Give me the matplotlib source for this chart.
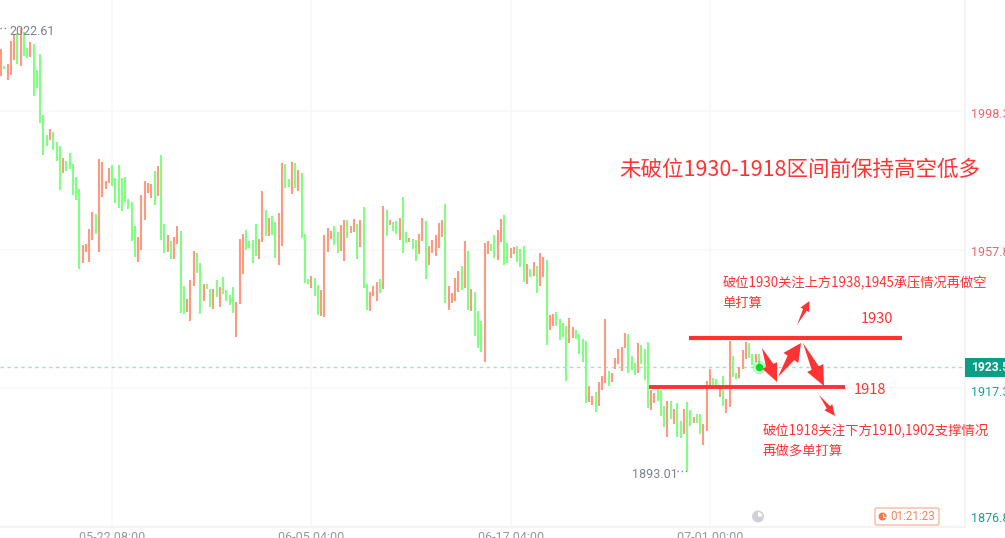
import matplotlib
matplotlib.use("Agg")
import matplotlib.pyplot as plt
from matplotlib.patches import Polygon, Rectangle, Circle, Wedge, FancyBboxPatch
import numpy as np

plt.rcParams['font.family'] = ['Noto Sans CJK SC', 'DejaVu Sans']

# 每根K线的开盘/收盘价
opens = [
    2008.8, 2011.6, 2007.6, 2009.1, 2013.4, 2021.2, 2011.7, 2021.6, 2016.9, 2014.3,
    2018.1, 2010.5, 2015.1, 1997.3, 1991.4, 1990.0, 1992.3, 1989.4, 1988.2, 1980.3,
    1983.8, 1986.2, 1983.0, 1979.1, 1975.6, 1954.0, 1957.2, 1954.3, 1960.7, 1968.3,
    1957.2, 1973.3, 1975.6, 1977.4, 1982.7, 1978.9, 1982.7, 1978.9, 1979.1, 1972.7,
    1971.8, 1964.8, 1954.3, 1957.8, 1966.6, 1974.5, 1973.0, 1980.9, 1973.6, 1985.6,
    1965.4, 1957.2, 1960.4, 1955.2, 1959.5, 1963.3, 1947.3, 1939.6, 1937.0, 1947.3,
    1956.9, 1954.0, 1942.9, 1947.8, 1946.4, 1940.5, 1949.0, 1941.1, 1949.9, 1946.1,
    1944.6, 1947.0, 1932.3, 1942.0, 1950.8, 1963.6, 1960.4, 1960.7, 1965.4, 1955.2,
    1960.1, 1969.5, 1961.9, 1967.7, 1966.0, 1953.4, 1959.0, 1982.9, 1978.6, 1974.2,
    1983.2, 1975.0, 1980.3, 1962.5, 1949.3, 1946.7, 1949.6, 1947.5, 1938.5, 1938.2,
    1957.2, 1961.0, 1964.8, 1963.0, 1957.5, 1954.6, 1966.6, 1962.8, 1963.0, 1965.4,
    1958.7, 1970.4, 1947.8, 1939.9, 1944.3, 1942.9, 1949.3, 1946.4, 1969.5, 1965.1,
    1966.0, 1966.3, 1960.7, 1973.3, 1963.0, 1960.1, 1961.0, 1960.7, 1956.6, 1960.4,
    1966.3, 1953.4, 1956.9, 1956.0, 1958.4, 1961.6, 1971.2, 1940.2, 1942.3, 1942.9,
    1945.5, 1953.1, 1946.7, 1957.5, 1939.9, 1945.5, 1939.9, 1937.0, 1925.0, 1956.6,
    1959.5, 1962.2, 1954.9, 1960.1, 1968.0, 1959.8, 1955.4, 1956.6, 1959.0, 1958.1,
    1959.0, 1947.8, 1952.2, 1950.2, 1953.1, 1947.3, 1949.9, 1954.9, 1934.4, 1935.5,
    1939.6, 1937.6, 1936.4, 1935.5, 1930.6, 1932.0, 1934.4, 1933.2, 1931.7, 1931.2,
    1913.3, 1912.4, 1916.2, 1912.1, 1916.8, 1918.9, 1922.4, 1919.2, 1923.0, 1924.4,
    1922.4, 1929.1, 1933.2, 1926.8, 1924.7, 1921.8, 1930.0, 1928.8, 1930.9, 1911.0,
    1913.0, 1917.1, 1916.8, 1912.1, 1903.1, 1913.6, 1906.9, 1913.0, 1907.8, 1903.9,
    1913.3, 1911.0, 1907.2, 1909.8, 1909.8, 1900.7, 1904.8, 1917.3, 1920.3, 1920.0,
    1914.8, 1920.9, 1910.1, 1911.8, 1926.8, 1921.8, 1920.3, 1923.0, 1925.9, 1930.6,
    1927.4, 1925.0, 1927.4,
]
closes = [
    2016.6, 2010.7, 2012.2, 2018.9, 2020.7, 2012.2, 2022.61, 2014.5, 2014.0, 2018.6,
    2002.8, 2005.2, 1994.9, 1985.6, 1988.2, 1993.2, 1987.0, 1983.8, 1975.3, 1984.7,
    1980.9, 1981.5, 1973.9, 1972.4, 1952.2, 1959.3, 1959.5, 1963.9, 1968.9, 1962.5,
    1984.4, 1983.5, 1978.0, 1981.8, 1976.5, 1971.5, 1970.1, 1969.2, 1971.8, 1969.8,
    1960.4, 1955.7, 1961.6, 1973.9, 1978.0, 1977.4, 1977.1, 1971.0, 1982.4, 1960.7,
    1956.9, 1962.2, 1955.2, 1961.6, 1964.8, 1939.4, 1939.1, 1943.5, 1949.0, 1957.5,
    1951.1, 1939.1, 1947.8, 1946.4, 1941.1, 1946.4, 1944.0, 1947.0, 1944.9, 1942.9,
    1941.7, 1939.4, 1942.6, 1961.0, 1962.5, 1957.8, 1958.4, 1954.0, 1956.0, 1961.0,
    1975.0, 1961.9, 1967.1, 1962.2, 1955.4, 1968.6, 1983.2, 1975.9, 1976.2, 1983.5,
    1975.9, 1981.2, 1961.3, 1948.1, 1947.8, 1950.2, 1944.3, 1938.8, 1946.1, 1962.2,
    1964.2, 1963.3, 1959.2, 1956.9, 1965.1, 1966.6, 1961.3, 1964.8, 1966.9, 1955.2,
    1966.6, 1946.7, 1940.2, 1945.5, 1947.3, 1948.4, 1945.2, 1970.7, 1961.9, 1966.6,
    1963.3, 1962.5, 1967.1, 1956.9, 1959.8, 1961.3, 1958.1, 1954.6, 1962.5, 1967.1,
    1949.3, 1959.0, 1960.7, 1962.2, 1965.7, 1966.6, 1942.3, 1947.3, 1945.2, 1949.6,
    1951.6, 1946.1, 1960.4, 1940.2, 1946.4, 1932.6, 1929.1, 1927.9, 1959.8, 1960.4,
    1957.5, 1955.4, 1963.6, 1966.9, 1953.4, 1954.0, 1958.4, 1958.7, 1954.3, 1952.8,
    1948.4, 1953.7, 1949.9, 1954.3, 1945.2, 1956.9, 1955.7, 1930.0, 1938.8, 1939.1,
    1935.5, 1931.5, 1932.3, 1919.5, 1937.9, 1935.3, 1931.7, 1927.4, 1925.0, 1913.0,
    1918.0, 1915.1, 1910.4, 1919.2, 1920.9, 1937.6, 1918.0, 1921.8, 1926.2, 1928.8,
    1929.4, 1933.5, 1921.8, 1922.7, 1921.2, 1930.6, 1924.4, 1919.7, 1911.6, 1916.8,
    1915.9, 1913.6, 1909.2, 1906.0, 1913.6, 1908.3, 1911.3, 1903.1, 1902.8, 1911.3,
    1893.01, 1906.3, 1908.9, 1907.2, 1903.9, 1906.9, 1919.5, 1923.0, 1918.3, 1918.3,
    1918.3, 1912.1, 1914.2, 1931.2, 1920.6, 1920.0, 1923.6, 1928.5, 1930.9, 1926.2,
    1924.1, 1927.4, 1923.5,
]

price_ticks = [1998.3, 1957.8, 1917.3, 1876.8]
price_tick_colors = ['#e8646e', '#e8646e', '#12a58c', '#12a58c']
time_ticks = [34, 95, 156, 217]
time_labels = ['05-22 08:00', '06-05 04:00', '06-17 04:00', '07-01 00:00']
last_price = 1923.5
high_label = '2022.61'
low_label = '1893.01'

W, H = 1005, 538
RED = '#ff3333'
UP = '#ff9a80'
DOWN = '#80ff80'
GREY = '#7c8190'


def wedge_arrow(ax, x0, y0, x1, y1, neck=5, head=8, head_len=12):
    # 手绘风格的箭头: 尾部尖, 往前变宽
    p0 = np.array([x0, y0], float)
    p1 = np.array([x1, y1], float)
    d = p1 - p0
    d = d / np.hypot(*d)
    n = np.array([-d[1], d[0]])
    base = p1 - d * head_len
    pts = [p0, base + n * neck / 2, base + n * head, p1,
           base - n * head, base - n * neck / 2]
    ax.add_patch(Polygon(pts, closed=True, fc=RED, ec='none', zorder=6))


fig = plt.figure(figsize=(W / 100, H / 100), dpi=100, facecolor='white')
ax = fig.add_axes([0, 1 - 526.5 / H, 965 / W, 526.5 / H])

n = len(opens)
o = np.array(opens)
c = np.array(closes)
idx = np.arange(n)
colors = [UP if b >= a else DOWN for a, b in zip(o, c)]
ax.vlines(idx, np.minimum(o, c), np.maximum(o, c), colors=colors, lw=1.5, zorder=3)

# 轴范围
ax.set_xlim(-0.31, 295.07)
ax.set_ylim(1876.8, 2030.93)
ax.set_xticks(time_ticks)
ax.set_xticklabels(time_labels, fontsize=9, color='#93979f', family=['Roboto', 'DejaVu Sans'])
ax.tick_params(axis='x', length=0, pad=3)
ax.yaxis.tick_right()
ax.set_yticks(price_ticks)
ax.set_yticklabels([])
ax.tick_params(axis='y', length=0)
ax.grid(True, color='#f8f8fa', lw=1.2, zorder=0)
for s in ['top', 'left']:
    ax.spines[s].set_visible(False)
for s in ['right', 'bottom']:
    ax.spines[s].set_color('#f1f2f5')
    ax.spines[s].set_linewidth(1.2)

ax.axhline(last_price, color='#a9ddd0', lw=1, ls=(0, (2.5, 2.5)), zorder=2)
ax.plot([n - 1], [last_price], 'o', ms=9, color='#00e020', alpha=0.18, zorder=5)
ax.plot([n - 1], [last_price], 'o', ms=5.5, color='#00dd22', mec='none', zorder=5)

# 叠加一层像素坐标, 放手绘标注
ov = fig.add_axes([0, 0, 1, 1], facecolor='none')
ov.set_xlim(0, W)
ov.set_ylim(H, 0)
ov.axis('off')

label_ys = [115, 253, 392, 518]
for p, col, y in zip(price_ticks, price_tick_colors, label_ys):
    ov.text(971, y, f'{p:.1f}', color=col, fontsize=9, va='center', ha='left',
            family=['Roboto', 'DejaVu Sans'], clip_on=True)
ov.add_patch(Rectangle((965, 358), 40, 19, fc='#0b9e86', ec='none', zorder=5))
ov.text(971, 367.5, f'{last_price:.1f}', color='white', fontsize=8.7, fontweight='bold',
        va='center', ha='left', family=['Roboto', 'DejaVu Sans'], zorder=6, clip_on=True)

# 最高/最低标签
ov.text(9, 31.5, high_label, color=GREY, fontsize=9, va='center', ha='left',
        family=['Roboto', 'DejaVu Sans'])
ov.plot([0, 8], [28, 28], color=GREY, lw=1, ls=(0, (1, 2)))
ov.text(632, 474.5, low_label, color=GREY, fontsize=9, va='center', ha='left',
        family=['Roboto', 'DejaVu Sans'])
ov.plot([677, 687], [471, 471], color=GREY, lw=1, ls=(0, (1, 2)))

# 压力/支撑线
ov.plot([689, 902], [338, 338], color=RED, lw=3, solid_capstyle='butt', zorder=5)
ov.plot([649, 845], [387, 387], color=RED, lw=2.8, solid_capstyle='butt', zorder=5)

ov.text(619, 170, '未破位1930-1918区间前保持高空低多', color=RED, fontsize=15.5, va='center', ha='left')
ov.text(723, 283, '破位1930关注上方1938,1945承压情况再做空', color=RED, fontsize=9.55, va='center', ha='left')
ov.text(722, 303, '单打算', color=RED, fontsize=9.55, va='center', ha='left')
ov.text(861, 319, '1930', color=RED, fontsize=10.5, va='center', ha='left')
ov.text(854, 390, '1918', color=RED, fontsize=10.5, va='center', ha='left')
ov.text(763, 431, '破位1918关注下方1910,1902支撑情况', color=RED, fontsize=9.65, va='center', ha='left')
ov.text(762, 451, '再做多单打算', color=RED, fontsize=9.65, va='center', ha='left')

wedge_arrow(ov, 797, 325, 809.5, 301, neck=4, head=5, head_len=10)
wedge_arrow(ov, 762, 348, 777, 382, neck=8, head=8, head_len=18)
wedge_arrow(ov, 778, 377, 801, 343, neck=8, head=9, head_len=18)
wedge_arrow(ov, 803, 343, 824, 386, neck=8, head=9, head_len=20)
wedge_arrow(ov, 819, 395, 835, 416, neck=4, head=5, head_len=11)

# 底部小图标和倒计时
ov.add_patch(Circle((758, 516.5), 6, fc='#cfd0da', ec='none'))
ov.add_patch(Wedge((758, 516.5), 4.5, 270, 360, fc='white', ec='none'))
ov.add_patch(FancyBboxPatch((875, 508), 64, 17, boxstyle='round,pad=0,rounding_size=1.5',
                            fc='white', ec='#f9b9a2', lw=1))
ov.add_patch(Circle((882.5, 516.5), 4, fc='#f4784a', ec='none'))
ov.plot([882.5, 882.5, 885], [514, 517, 517], color='white', lw=0.8)
ov.text(890, 516.5, '01:21:23', color='#f4845f', fontsize=8.4, va='center', ha='left',
        family=['Roboto', 'DejaVu Sans'])

fig.savefig('out.png', dpi=100)
